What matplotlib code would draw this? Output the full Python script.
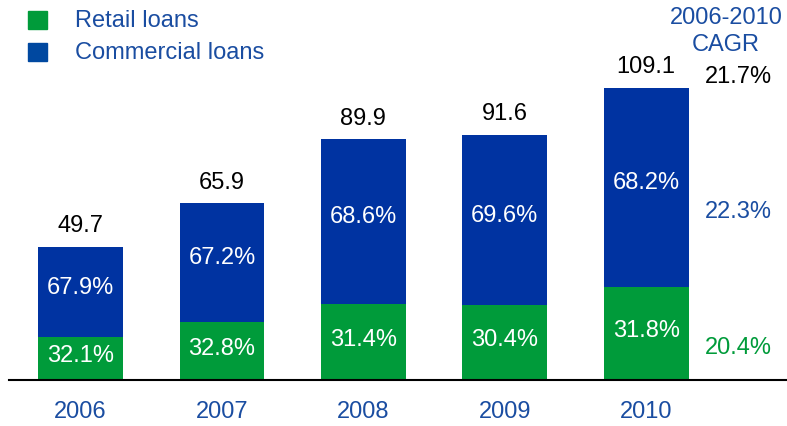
import matplotlib.pyplot as plt
import numpy as np

plt.rcParams['font.family'] = ['Liberation Sans', 'DejaVu Sans']

years = ['2006', '2007', '2008', '2009', '2010']
totals = [49.7, 65.9, 89.9, 91.6, 109.1]
retail_pct = [32.1, 32.8, 31.4, 30.4, 31.8]
commercial_pct = [67.9, 67.2, 68.6, 69.6, 68.2]
cagr_total = '21.7%'
cagr_commercial = '22.3%'
cagr_retail = '20.4%'

GREEN = '#009B3A'
BLUE = '#0033A1'
TEXT_BLUE = '#1A4DA1'
FS = 17

fig = plt.figure(figsize=(7.87, 4.27), dpi=100)
ax = fig.add_axes([9 / 787, 46 / 427, 778 / 787, 381 / 427])

x = np.arange(len(years))
totals = np.array(totals)
retail = totals * np.array(retail_pct) / 100
commercial = totals - retail

width = 0.6
ax.bar(x, retail, width, color=GREEN, label='Retail loans')
ax.bar(x, commercial, width, bottom=retail, color=BLUE, label='Commercial loans')

for i in range(len(years)):
    ax.text(x[i], retail[i] / 2 + 1.3, f'{retail_pct[i]:.1f}%', ha='center', va='center',
            color='white', fontsize=FS)
    ax.text(x[i], retail[i] + commercial[i] / 2 + 2, f'{commercial_pct[i]:.1f}%',
            ha='center', va='center', color='white', fontsize=FS)
    ax.text(x[i], totals[i] + 8, f'{totals[i]:.1f}', ha='center', va='center',
            color='black', fontsize=FS)
    ax.text(x[i], -11.5, years[i], ha='center', va='center', color=TEXT_BLUE, fontsize=FS)

# CAGR column on the right
cx = 4.65
ax.text(cx, totals[4] + 4.3, cagr_total, ha='center', va='center', color='black', fontsize=FS)
ax.text(cx, retail[4] + commercial[4] / 2 - 8.8, cagr_commercial, ha='center', va='center',
        color=TEXT_BLUE, fontsize=FS)
ax.text(cx, retail[4] / 2 - 5, cagr_retail, ha='center', va='center', color=GREEN, fontsize=FS)
fig.text(726 / 787, 1 - 18 / 427, '2006-2010', ha='center', va='center', color=TEXT_BLUE, fontsize=FS)
fig.text(726 / 787, 1 - 45 / 427, 'CAGR', ha='center', va='center', color=TEXT_BLUE, fontsize=FS)

# legend drawn by hand: square marker + label
for k, (lbl, col) in enumerate([('Retail loans', GREEN), ('Commercial loans', '#0048A0')]):
    yy = 1 - (21 + 32 * k) / 427
    fig.patches.append(plt.Rectangle((28 / 787, yy - 9 / 427), 19 / 787, 18 / 427,
                                     transform=fig.transFigure, color=col))
    fig.text(75 / 787, yy, lbl, ha='left', va='center', color=TEXT_BLUE, fontsize=FS)

ax.set_xlim(-0.506, 4.996)
ax.set_ylim(0, 142.2)
for s in ['top', 'right', 'left']:
    ax.spines[s].set_visible(False)
ax.spines['bottom'].set_linewidth(1.5)
ax.set_xticks([])
ax.set_yticks([])
ax.patch.set_alpha(0)

fig.savefig('out.png', dpi=100)
